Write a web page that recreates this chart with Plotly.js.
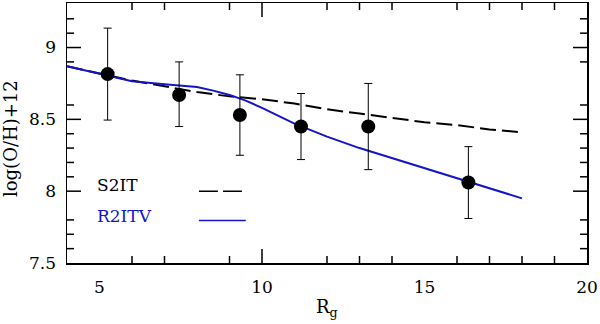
<!DOCTYPE html>
<html>
<head>
<meta charset="utf-8">
<script src="https://cdn.plot.ly/plotly-3.0.1.min.js"></script>
<style>body{margin:0;background:#fff}</style>
</head>
<body>
<div id="myDiv" style="width:600px;height:324px"></div>
<script>
// observed abundances with error bars
var obsR = [5.25, 7.45, 9.32, 11.2, 13.27, 16.35];
var obsOH = [8.815, 8.67, 8.53, 8.45, 8.45, 8.06];
var obsErrHi = [0.32, 0.23, 0.28, 0.23, 0.30, 0.25];
var obsErrLo = [0.32, 0.22, 0.28, 0.23, 0.30, 0.25];

// model S2IT (dashed)
var s2itR = [4, 5, 6, 7, 8, 9, 10, 11, 12, 13, 14, 15, 16, 17, 18];
var s2itOH = [8.87, 8.82, 8.77, 8.73, 8.69, 8.66, 8.64, 8.61, 8.57, 8.54, 8.51, 8.48, 8.46, 8.43, 8.41];

// model R2ITV (blue)
var r2itvR = [4, 5, 6, 7, 8, 8.5, 9, 9.5, 10, 11, 12, 13, 14, 15, 16, 17, 18];
var r2itvOH = [8.87, 8.82, 8.765, 8.745, 8.725, 8.70, 8.67, 8.63, 8.58, 8.47, 8.38, 8.30, 8.23, 8.16, 8.09, 8.02, 7.95];

var xLabels = [5, 10, 15, 20];
var xMinor = [6, 7, 9, 12, 13, 14, 16, 17, 18, 19];
var xMajor = [10];
var yLabels = [7.5, 8, 8.5, 9];
var yMajor = [8, 8.5, 9];
var yMinor = [7.6, 7.7, 7.8, 8.1, 8.2, 8.3, 8.4, 8.6, 8.9, 9.1, 9.2];

var xRange = [4, 20];
var yRange = [7.5, 9.31];

var blue = 'rgb(20,20,200)';
var tickFont = {family: 'DejaVu Serif', size: 17, color: '#000'};

var s2it = {
  x: s2itR, y: s2itOH, type: 'scatter', mode: 'lines',
  line: {color: '#000', width: 2, dash: '16px,6px'},
  hoverinfo: 'skip'
};

var r2itv = {
  x: r2itvR, y: r2itvOH, type: 'scatter', mode: 'lines',
  line: {color: blue, width: 2},
  hoverinfo: 'skip'
};

var obs = {
  x: obsR, y: obsOH, type: 'scatter', mode: 'markers',
  marker: {color: '#000', size: 14},
  error_y: {type: 'data', symmetric: false, array: obsErrHi, arrayminus: obsErrLo,
    color: '#000', thickness: 1, width: 4}
};

// inside tick marks on all four sides (plot area is 520 x 260 px)
var shapes = [];
var xPerPx = (xRange[1] - xRange[0]) / 520, yPerPx = (yRange[1] - yRange[0]) / 260;
var tickLine = {color: '#000', width: 1.5};
function xTicks(vals, len) {
  vals.forEach(function (v) {
    shapes.push({type: 'line', xref: 'x', yref: 'y', x0: v, x1: v,
      y0: yRange[0], y1: yRange[0] + len * yPerPx, line: tickLine});
    shapes.push({type: 'line', xref: 'x', yref: 'y', x0: v, x1: v,
      y0: yRange[1], y1: yRange[1] - len * yPerPx, line: tickLine});
  });
}
function yTicks(vals, len) {
  vals.forEach(function (v) {
    shapes.push({type: 'line', xref: 'x', yref: 'y', y0: v, y1: v,
      x0: xRange[0], x1: xRange[0] + len * xPerPx, line: tickLine});
    shapes.push({type: 'line', xref: 'x', yref: 'y', y0: v, y1: v,
      x0: xRange[1], x1: xRange[1] - len * xPerPx, line: tickLine});
  });
}
xTicks(xMinor, 7);
xTicks(xMajor, 14);
yTicks(yMinor, 7);
yTicks(yMajor, 14);

// legend line samples
shapes.push({type: 'line', xref: 'x', yref: 'y', x0: 8.06, x1: 9.5, y0: 8.0, y1: 8.0,
  line: {color: '#000', width: 1.5, dash: '19px,5px'}});
shapes.push({type: 'line', xref: 'x', yref: 'y', x0: 8.06, x1: 9.5, y0: 7.795, y1: 7.795,
  line: {color: blue, width: 1.5}});

var layout = {
  width: 600, height: 324,
  margin: {l: 67, r: 13, t: 3, b: 61},
  paper_bgcolor: '#fff', plot_bgcolor: '#fff',
  showlegend: false,
  xaxis: {
    range: xRange, showgrid: false, zeroline: false,
    showline: true, linecolor: '#000', linewidth: 1.5, mirror: true,
    tickmode: 'array', tickvals: xLabels, ticks: '', tickfont: tickFont, ticklabelstandoff: 8
  },
  yaxis: {
    range: yRange, showgrid: false, zeroline: false,
    showline: true, linecolor: '#000', linewidth: 1.5, mirror: true,
    tickmode: 'array', tickvals: yLabels, ticktext: ['7.5', '8', '8.5', '9'],
    ticks: '', tickfont: tickFont, ticklabelstandoff: 6
  },
  annotations: [
    {text: 'log(O/H)+12', xref: 'paper', yref: 'paper', x: -0.11, y: 0.48,
     textangle: -90, showarrow: false, xanchor: 'center', yanchor: 'middle',
     font: {family: 'DejaVu Serif', size: 18, color: '#000'}},
    {text: 'R<sub>g</sub>', xref: 'paper', yref: 'paper', x: 0.5, y: -0.12,
     showarrow: false, xanchor: 'center', yanchor: 'top',
     font: {family: 'DejaVu Serif', size: 18, color: '#000'}},
    {text: 'S2IT', xref: 'x', yref: 'y', x: 4.86, y: 8.04, showarrow: false,
     xanchor: 'left', yanchor: 'middle', font: {family: 'DejaVu Serif', size: 17, color: '#000'}},
    {text: 'R2ITV', xref: 'x', yref: 'y', x: 4.86, y: 7.83, showarrow: false,
     xanchor: 'left', yanchor: 'middle', font: {family: 'DejaVu Serif', size: 17, color: blue}}
  ],
  shapes: shapes
};

Plotly.newPlot('myDiv', [s2it, r2itv, obs], layout, {staticPlot: true});
</script>
</body>
</html>
